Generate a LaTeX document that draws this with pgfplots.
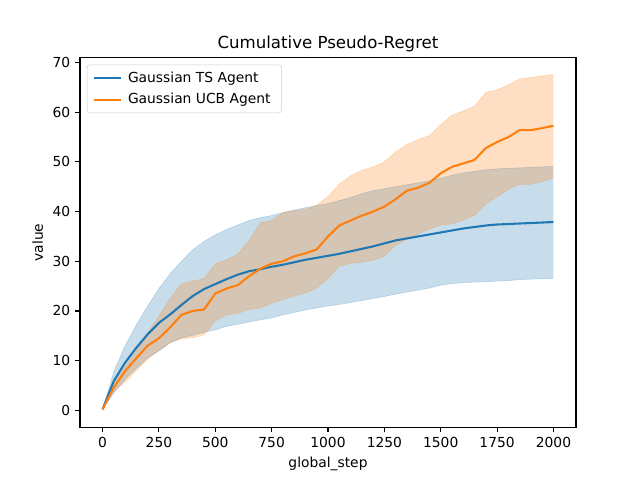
\documentclass[border=0pt]{standalone}
\usepackage{fontspec}
\setmainfont{DejaVu Sans}
\usepackage{pgfplots}
\usepackage{pgfplotstable}
\pgfplotsset{compat=1.18}
\usepgfplotslibrary{fillbetween}
\definecolor{cA}{HTML}{1F77B4}
\definecolor{cB}{HTML}{FF7F0E}
\pgfplotstableread{
x tsm tsl tsu ucm ucl ucu
0 0.2 0.2 0.2 0.2 0.2 0.2
50 5.9 3.5 7.8 4.6 3.8 5.6
100 9.6 6.3 13.0 7.9 5.7 8.8
150 12.6 8.5 17.2 10.5 8.0 12.0
200 15.3 10.6 21.0 13.0 10.3 15.5
250 17.6 12.0 24.5 14.5 12.0 19.0
300 19.3 13.6 27.5 16.7 13.6 22.5
350 21.2 14.6 30.0 19.2 14.4 25.5
400 23.0 15.1 32.3 20.0 14.6 26.0
450 24.4 15.7 34.0 20.3 15.2 26.5
500 25.4 16.2 35.3 23.5 18.0 29.5
550 26.4 16.9 36.4 24.5 19.2 30.3
600 27.3 17.3 37.3 25.2 19.5 31.5
650 28.0 17.8 38.2 27.0 20.3 34.2
700 28.4 18.2 38.8 28.5 20.6 37.8
750 28.9 18.6 39.2 29.5 21.5 38.2
800 29.3 19.2 39.8 30.0 22.3 39.8
850 29.8 19.7 40.3 31.0 23.0 40.2
900 30.3 20.2 40.8 31.6 23.6 40.4
950 30.7 20.6 41.2 32.4 24.6 41.3
1000 31.1 21.0 41.6 35.0 26.5 43.0
1050 31.5 21.3 42.2 37.2 29.0 45.5
1100 32.0 21.7 42.8 38.2 29.6 47.2
1150 32.5 22.1 43.6 39.2 29.8 48.3
1200 33.0 22.5 44.2 40.0 30.2 49.0
1250 33.6 22.9 44.6 41.0 31.0 50.0
1300 34.2 23.4 45.0 42.5 33.2 52.0
1350 34.6 23.8 45.4 44.2 34.4 53.5
1400 35.0 24.2 45.8 44.8 35.5 54.5
1450 35.4 24.6 46.2 45.8 36.5 55.3
1500 35.8 25.2 46.7 47.7 37.3 57.5
1550 36.2 25.5 47.3 49.0 37.5 59.4
1600 36.6 25.7 47.8 49.7 38.3 60.3
1650 36.9 25.8 48.1 50.4 39.3 61.2
1700 37.2 25.9 48.4 52.8 41.5 64.0
1750 37.4 26.0 48.6 54.0 43.0 64.5
1800 37.5 26.1 48.7 55.0 44.5 65.5
1850 37.6 26.3 48.8 56.4 45.5 66.7
1900 37.7 26.4 48.9 56.4 45.5 67.0
1950 37.8 26.5 49.0 56.8 46.0 67.3
2000 37.9 26.5 49.1 57.3 46.8 67.6
}\data
\begin{document}
\begin{tikzpicture}
\begin{axis}[
  name=ax,
  scale only axis,
  width=4.96in, height=3.696in,
  xmin=-100, xmax=2100, ymin=-3.4, ymax=71,
  xtick={0,250,...,2000}, ytick={0,10,...,70},
  tick align=outside, tick pos=left,
  major tick length=3.5pt,
  tick style={black, line width=0.8pt},
  axis line style={line width=0.8pt},
  /pgf/number format/assume math mode=true,
  /pgf/number format/1000 sep={},
  tick label style={font=\fontsize{10}{12}\selectfont},
  xlabel={global\_step}, ylabel={value},
  label style={font=\fontsize{10}{12}\selectfont},
  title={Cumulative Pseudo-Regret},
  title style={font=\fontsize{12}{14}\selectfont, yshift=-5.5pt},
  legend style={at={(0,1)}, anchor=north west, xshift=5pt, yshift=-5pt,
    draw=black!20, rounded corners=2pt, font=\fontsize{10}{12}\selectfont,
    row sep=2.5pt, inner xsep=4pt, inner ysep=3pt,
    nodes={inner xsep=4pt}},
  legend cell align=left,
  legend image code/.code={\draw[#1, line width=1.5pt] (0pt,0pt) -- (20pt,0pt);},
]
\addplot[name path=tsu, draw=cA, draw opacity=0.25, line width=0.4pt, forget plot] table[x=x, y=tsu] {\data};
\addplot[name path=tsl, draw=cA, draw opacity=0.25, line width=0.4pt, forget plot] table[x=x, y=tsl] {\data};
\addplot[fill=cA, fill opacity=0.25, draw=none, forget plot] fill between[of=tsu and tsl];
\addplot[name path=ucu, draw=cB, draw opacity=0.25, line width=0.4pt, forget plot] table[x=x, y=ucu] {\data};
\addplot[name path=ucl, draw=cB, draw opacity=0.25, line width=0.4pt, forget plot] table[x=x, y=ucl] {\data};
\addplot[fill=cB, fill opacity=0.25, draw=none, forget plot] fill between[of=ucu and ucl];
\addplot[cA, line width=1.5pt] table[x=x, y=tsm] {\data};
\addlegendentry{Gaussian TS Agent}
\addplot[cB, line width=1.5pt] table[x=x, y=ucm] {\data};
\addlegendentry{Gaussian UCB Agent}
\end{axis}
\path[use as bounding box] ([xshift=-0.8in,yshift=-0.528in]ax.south west) rectangle ([xshift=0.64in,yshift=0.576in]ax.north east);
\end{tikzpicture}
\end{document}
